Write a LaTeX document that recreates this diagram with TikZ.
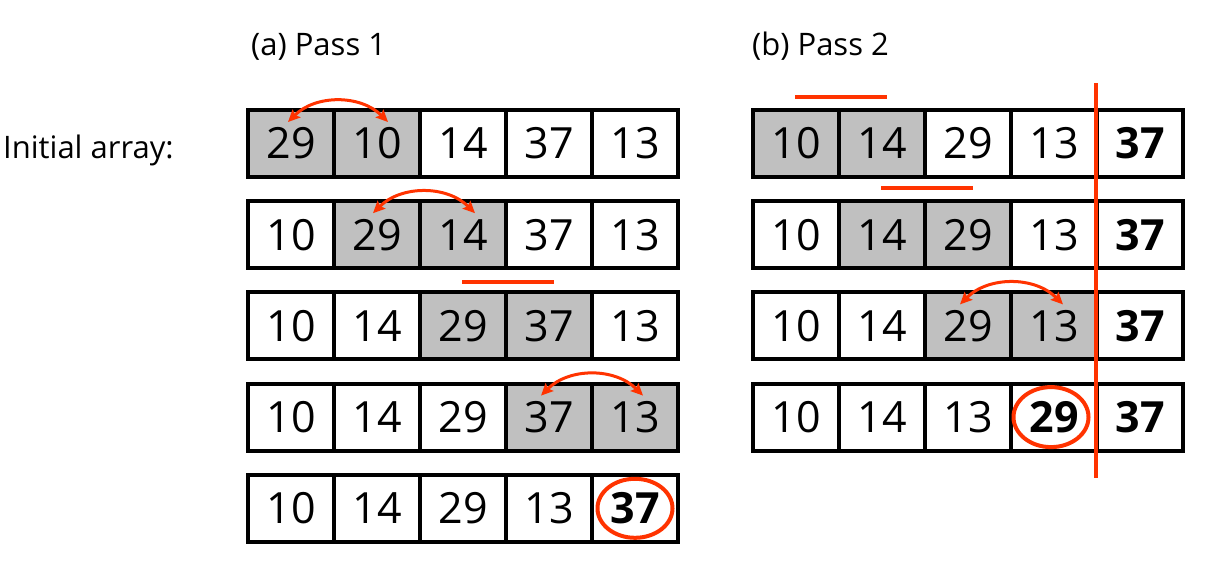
\documentclass[tikz,border=0pt]{standalone}
\usepackage{fontspec}
\setmainfont{Open Sans}
\usepackage{tikz}
\usetikzlibrary{arrows.meta}

\definecolor{cellfill}{RGB}{192,192,192}
\definecolor{swapred}{RGB}{255,51,0}

\tikzset{
  cellbox/.style={draw, line width=4pt, minimum width=86pt, minimum height=67pt,
    inner sep=0pt, font=\fontsize{43}{50}\selectfont},
  cellgray/.style={fill=cellfill},
  cellwhite/.style={fill=white},
  swaparrow/.style={swapred, line width=3pt, {Stealth[length=12pt,width=11pt,inset=2pt]}-{Stealth[length=12pt,width=11pt,inset=2pt]}},
  redbar/.style={swapred, line width=4pt},
  redring/.style={swapred, line width=4pt},
  caption/.style={anchor=base west, inner sep=0pt, font=\fontsize{31}{36}\selectfont}
}

\begin{document}
\begin{tikzpicture}[x=1pt,y=-1pt]
  \useasboundingbox (0,0) rectangle (1207,565);

  % titles
  \node [caption] (passa) at (251,55) {(a) Pass 1};
  \node [caption] (passb) at (752,55) {(b) Pass 2};
  \node [caption] (initial) at (3,158) {Initial array:};

  % pass 1
  \foreach \v/\s [count=\j from 0] in {29/cellgray,10/cellgray,14/cellwhite,37/cellwhite,13/cellwhite}
    \node [cellbox,\s] (L0\j) at (291+86*\j,143.5) {\v};
  \foreach \v/\s [count=\j from 0] in {10/cellwhite,29/cellgray,14/cellgray,37/cellwhite,13/cellwhite}
    \node [cellbox,\s] (L1\j) at (291+86*\j,234.7) {\v};
  \foreach \v/\s [count=\j from 0] in {10/cellwhite,14/cellwhite,29/cellgray,37/cellgray,13/cellwhite}
    \node [cellbox,\s] (L2\j) at (291+86*\j,325.9) {\v};
  \foreach \v/\s [count=\j from 0] in {10/cellwhite,14/cellwhite,29/cellwhite,37/cellgray,13/cellgray}
    \node [cellbox,\s] (L3\j) at (291+86*\j,417.1) {\v};
  \foreach \v/\s [count=\j from 0] in {10/cellwhite,14/cellwhite,29/cellwhite,13/cellwhite,{\bfseries 37}/cellwhite}
    \node [cellbox,\s] (L4\j) at (291+86*\j,508.3) {\v};

  % pass 2
  \foreach \v/\s [count=\j from 0] in {10/cellgray,14/cellgray,29/cellwhite,13/cellwhite,{\bfseries 37}/cellwhite}
    \node [cellbox,\s] (R0\j) at (796+86*\j,143.5) {\v};
  \foreach \v/\s [count=\j from 0] in {10/cellwhite,14/cellgray,29/cellgray,13/cellwhite,{\bfseries 37}/cellwhite}
    \node [cellbox,\s] (R1\j) at (796+86*\j,234.7) {\v};
  \foreach \v/\s [count=\j from 0] in {10/cellwhite,14/cellwhite,29/cellgray,13/cellgray,{\bfseries 37}/cellwhite}
    \node [cellbox,\s] (R2\j) at (796+86*\j,325.9) {\v};
  \foreach \v/\s [count=\j from 0] in {10/cellwhite,14/cellwhite,13/cellwhite,{\bfseries 29}/cellwhite,{\bfseries 37}/cellwhite}
    \node [cellbox,\s] (R3\j) at (796+86*\j,417.1) {\v};

  % swaps
  \draw [swaparrow] ([xshift=-3pt,yshift=-14pt]L00.north) to[bend left=45] ([xshift=11pt,yshift=-14pt]L01.north);
  \draw [swaparrow] ([xshift=-4pt,yshift=-14pt]L11.north) to[bend left=45] ([xshift=12pt,yshift=-14pt]L12.north);
  \draw [swaparrow] ([xshift=-8pt,yshift=-14pt]L33.north) to[bend left=45] ([xshift=8pt,yshift=-14pt]L34.north);
  \draw [swaparrow] ([xshift=-8pt,yshift=-14pt]R22.north) to[bend left=45] ([xshift=9pt,yshift=-14pt]R23.north);

  % no swap
  \draw [redbar] ([xshift=-46pt,yshift=8pt]L22.north east) -- ([xshift=46pt,yshift=8pt]L22.north east);
  \draw [redbar] ([xshift=-46pt,yshift=11pt]R00.north east) -- ([xshift=46pt,yshift=11pt]R00.north east);
  \draw [redbar] ([xshift=-46pt,yshift=11pt]R11.north east) -- ([xshift=46pt,yshift=11pt]R11.north east);

  % sorted part
  \coordinate (cuttop) at ([xshift=1pt,yshift=25pt]R04.north west);
  \coordinate (cutbot) at ([xshift=1pt,yshift=-25pt]R34.south west);
  \draw [redbar] (cuttop) -- (cutbot);
  \draw [redring] (L44.center) ellipse (37.5pt and 29.5pt);
  \draw [redring] ([xshift=-3pt]R33.center) ellipse (37.5pt and 30pt);
\end{tikzpicture}
\end{document}
